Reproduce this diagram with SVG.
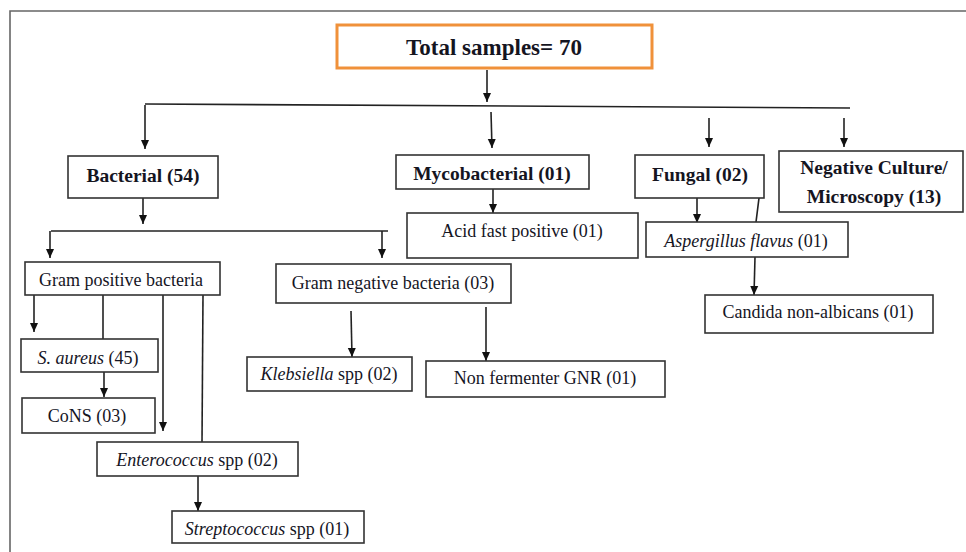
<svg xmlns="http://www.w3.org/2000/svg" width="966" height="552" viewBox="0 0 966 552">
<style>
.box{fill:#fff;stroke:#333;stroke-width:1.6}
.t{font-family:"Liberation Serif","Times New Roman",serif;font-size:18px;fill:#15151f;text-anchor:middle}
.b{font-weight:bold;font-size:19.5px}
.c{stroke:#222;stroke-width:1.6;fill:none}
.a{marker-end:url(#ah)}
</style>
<defs>
<marker id="ah" markerWidth="10" markerHeight="10" refX="9" refY="5" orient="auto" markerUnits="userSpaceOnUse">
<path d="M0,1 L9,5 L0,9 Z" fill="#111"/>
</marker>
</defs>
<rect width="966" height="552" fill="#fff"/>
<path d="M10,552 V11 H966" fill="none" stroke="#666" stroke-width="1.6"/>

<g id="connectors">
<path class="c a" d="M487,70 V102"/>
<path class="c" d="M145,104 L850,108" stroke-width="2.6"/>
<path class="c a" d="M145,105 V149"/>
<path class="c a" d="M491,112 L492,148"/>
<path class="c a" d="M709,118 V147"/>
<path class="c a" d="M844,118 V147"/>
<path class="c a" d="M143,198 V224"/>
<path class="c" d="M51,231 H388"/>
<path class="c a" d="M50,231 V258"/>
<path class="c a" d="M382,231 V258"/>
<path class="c a" d="M493,189 V213"/>
<path class="c a" d="M697,198 V223"/>
<path class="c" d="M759,198 L756,222"/>
<path class="c a" d="M755,257 L754,295"/>
<path class="c a" d="M34,295 V332"/>
<path class="c" d="M103,295 V339"/>
<path class="c a" d="M163,295 V431"/>
<path class="c" d="M203,295 L202,442"/>
<path class="c a" d="M104,372 V397"/>
<path class="c a" d="M198,476 V511"/>
<path class="c a" d="M351,311 L352,357"/>
<path class="c a" d="M486,307 V361"/>
</g>

<g id="total">
<rect x="337" y="25" width="315" height="43" fill="#fff" stroke="#f0913a" stroke-width="3"/>
<text class="t b" x="494" y="55" style="font-size:23px">Total samples= 70</text>
</g>
<g id="bacterial">
<rect class="box" x="68" y="156" width="150" height="42"/>
<text class="t b" x="143" y="182">Bacterial (54)</text>
</g>
<g id="mycobacterial">
<rect class="box" x="396" y="155" width="193" height="34"/>
<text class="t b" x="492" y="180">Mycobacterial (01)</text>
</g>
<g id="fungal">
<rect class="box" x="635" y="155" width="129" height="43"/>
<text class="t b" x="700" y="181">Fungal (02)</text>
</g>
<g id="negative">
<rect class="box" x="779" y="151" width="184" height="61"/>
<text class="t b" x="874" y="174">Negative Culture/</text>
<text class="t b" x="874" y="203">Microscopy (13)</text>
</g>
<g id="acidfast">
<rect class="box" x="407" y="213" width="231" height="45"/>
<text class="t" x="522" y="237">Acid fast positive (01)</text>
</g>
<g id="aspergillus">
<rect class="box" x="646" y="222" width="202" height="35"/>
<text class="t" x="746" y="247"><tspan font-style="italic">Aspergillus flavus</tspan> (01)</text>
</g>
<g id="candida">
<rect class="box" x="705" y="295" width="228" height="38"/>
<text class="t" x="818" y="318">Candida non-albicans (01)</text>
</g>
<g id="grampos">
<rect class="box" x="25" y="262" width="195" height="33"/>
<text class="t" x="121" y="286">Gram positive bacteria</text>
</g>
<g id="gramneg">
<rect class="box" x="276" y="264" width="235" height="39"/>
<text class="t" x="393" y="289">Gram negative bacteria (03)</text>
</g>
<g id="saureus">
<rect class="box" x="21" y="339" width="137" height="33"/>
<text class="t" x="88" y="364"><tspan font-style="italic">S. aureus</tspan> (45)</text>
</g>
<g id="cons">
<rect class="box" x="22" y="398" width="133" height="35"/>
<text class="t" x="87" y="422">CoNS (03)</text>
</g>
<g id="enterococcus">
<rect class="box" x="97" y="442" width="201" height="34"/>
<text class="t" x="197" y="466"><tspan font-style="italic">Enterococcus</tspan> spp (02)</text>
</g>
<g id="streptococcus">
<rect class="box" x="172" y="511" width="192" height="32"/>
<text class="t" x="267" y="535"><tspan font-style="italic">Streptococcus</tspan> spp (01)</text>
</g>
<g id="klebsiella">
<rect class="box" x="247" y="357" width="165" height="34"/>
<text class="t" x="329" y="380"><tspan font-style="italic">Klebsiella</tspan> spp (02)</text>
</g>
<g id="nonfermenter">
<rect class="box" x="426" y="361" width="239" height="36"/>
<text class="t" x="545" y="384">Non fermenter GNR (01)</text>
</g>
</svg>
